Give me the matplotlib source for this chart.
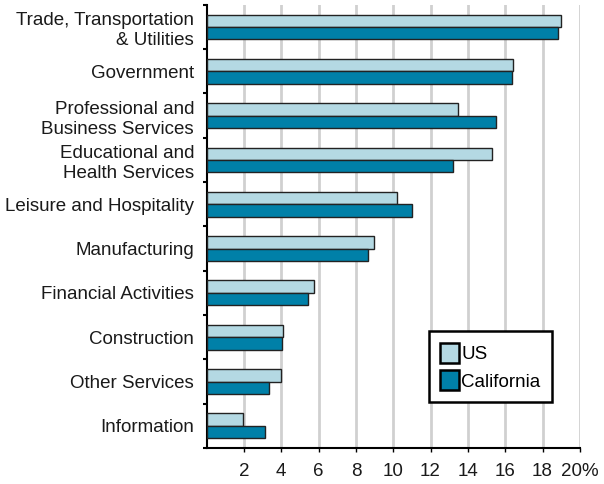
import matplotlib
matplotlib.use("Agg")
import matplotlib.pyplot as plt
import numpy as np
from matplotlib.ticker import FixedLocator

plt.rcParams['font.family'] = ['Liberation Sans', 'DejaVu Sans']

categories = ["Trade, Transportation\n& Utilities", "Government",
              "Professional and\nBusiness Services", "Educational and\nHealth Services",
              "Leisure and Hospitality", "Manufacturing", "Financial Activities",
              "Construction", "Other Services", "Information"]
us = [19.0, 16.4, 13.45, 15.27, 10.23, 8.96, 5.77, 4.11, 3.98, 1.96]
california = [18.84, 16.37, 15.53, 13.21, 11.03, 8.66, 5.41, 4.02, 3.34, 3.12]
xticks = [2, 4, 6, 8, 10, 12, 14, 16, 18, 20]
xtick_labels = ["2", "4", "6", "8", "10", "12", "14", "16", "18", "20%"]

fig = plt.figure(figsize=(6.04, 4.84), dpi=100)
ax = fig.add_axes([0.342, 0.0744, 0.618, 0.9156])

n = len(categories)
y = np.arange(n)
h = 0.28
ax.barh(y - h/2, us, height=h, color="#b4d9e3", edgecolor="#222222", linewidth=1.0, label="US", zorder=3)
ax.barh(y + h/2, california, height=h, color="#0080a8", edgecolor="#222222", linewidth=1.0, label="California", zorder=3)

ax.set_ylim(n - 0.5, -0.5)
ax.set_xlim(0, 20)
ax.set_yticks(y)
ax.set_yticklabels(categories, fontsize=13.5, color="#1a1a1a", linespacing=1.25)
ax.tick_params(axis='y', which='major', length=0, pad=9)
ax.yaxis.set_minor_locator(FixedLocator(np.arange(-0.5, n, 1.0)))
ax.tick_params(axis='y', which='minor', length=3, width=1.5, direction='out')

ax.set_xticks(xticks)
ax.set_xticklabels(xtick_labels, fontsize=13.5, color="#1a1a1a")
ax.tick_params(axis='x', length=3, width=1.0, direction='out', pad=8)

for xv in xticks:
    ax.axvline(xv, color="#d0d0d0", linewidth=2, zorder=1)

for s in ["top", "right"]:
    ax.spines[s].set_visible(False)
ax.spines["left"].set_linewidth(1.5)
ax.spines["bottom"].set_linewidth(1.5)

leg = ax.legend(loc="lower right", bbox_to_anchor=(0.925, 0.104), fontsize=13.5,
                frameon=True, fancybox=False, edgecolor="black", framealpha=1,
                handlelength=1.05, handleheight=1.25, handletextpad=0.1, borderpad=0.6,
                labelspacing=0.4, borderaxespad=0)
leg.get_frame().set_linewidth(1.8)
for p in leg.get_patches():
    p.set_linewidth(1.8)
    p.set_edgecolor("black")

fig.savefig("out.png", dpi=100)
